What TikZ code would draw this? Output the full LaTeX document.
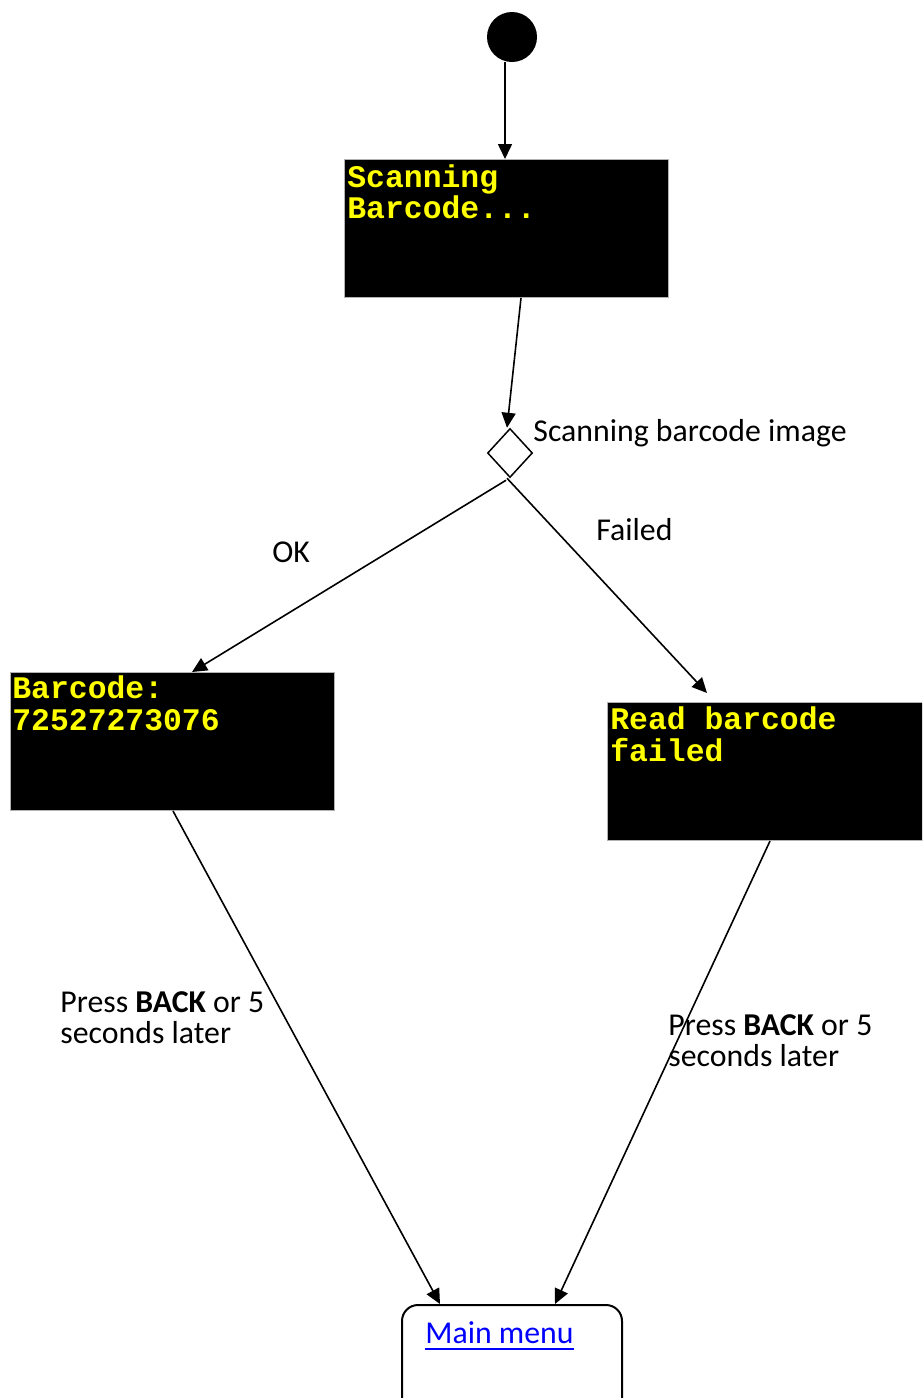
\documentclass[tikz,border=0pt]{standalone}
\usepackage{fontspec}
\setmainfont{Carlito}
\newfontfamily\lcdfont{Liberation Mono}
\usetikzlibrary{arrows.meta,shapes.geometric,calc}
\definecolor{linkblue}{RGB}{0,0,255}
\definecolor{lcdyellow}{RGB}{255,255,0}
\begin{document}
\begin{tikzpicture}[x=0.5pt,y=-0.5pt,
  lcd/.style={draw=gray!60, line width=0.5pt, fill=black, rectangle, inner sep=0pt,
    anchor=north west, minimum width=162pt, minimum height=69pt},
  lcdtext/.style={font=\lcdfont\bfseries\fontsize{15.7}{15.7}\selectfont, text=lcdyellow,
    inner sep=0pt, anchor=base west},
  lbl/.style={font=\fontsize{15.9}{15.9}\selectfont, inner sep=0pt, anchor=base west},
  conn/.style={-{Triangle[length=7.5pt,width=7pt]}, line width=0.8pt}]
\path[use as bounding box] (0,0) rectangle (922,1398);
\clip (0,0) rectangle (922,1398);
% nodes
\node[circle, fill=black, minimum size=25pt, inner sep=0pt] (init) at (512,37) {};
\node[lcd] (scan) at (344,159) {};
\node[lcdtext] (scan1) at (347,187) {Scanning};
\node[lcdtext] (scan2) at (347,218) {Barcode...};
\node[diamond, draw, line width=0.75pt, minimum width=22.5pt, minimum height=24.5pt, inner sep=0pt] (dec) at (510,453) {};
\node[lbl] (declbl) at (533,441) {Scanning barcode image};
\node[lbl] (ok) at (272,562) {OK};
\node[lbl] (failed) at (596,540) {Failed};
\node[lcd] (okbox) at (10,672) {};
\node[lcdtext] (ok1) at (12,698) {Barcode:};
\node[lcdtext] (ok2) at (12,730) {72527273076};
\node[lcd, minimum width=170pt] (fail) at (607,702) {};
\node[lcdtext] (fail1) at (610,729) {Read barcode};
\node[lcdtext] (fail2) at (610,761) {failed};
\node[draw, rounded corners=8pt, line width=1pt, minimum width=110pt, minimum height=60pt,
  anchor=north west] (menu) at (401,1304) {};
\node[lbl, text=linkblue] (menutext) at (425,1343) {Main menu};
\draw[linkblue, line width=1.1pt] ($(menutext.base west)+(0,6)$) -- ($(menutext.base east)+(0,6)$);
\node[lbl] (p1a) at (60,1012) {Press \textbf{BACK} or 5};
\node[lbl] (p1b) at (60,1043) {seconds later};
\node[lbl] (p2a) at (668,1035) {Press \textbf{BACK} or 5};
\node[lbl] (p2b) at (668,1066) {seconds later};
% connectors
\draw[conn] ($(init.south)+(-7,0)$) -- ($(scan.north west)+(161,0)$);
\draw[conn] ($(scan.south west)+(177,0)$) -- ($(dec.north)+(-3,0)$);
\draw[conn] ($(dec.south)+(-4,2)$) -- ($(okbox.north west)+(182,0)$);
\draw[conn] ($(dec.south)+(-3,0)$) -- ($(fail.north west)+(100,-9)$);
\draw[conn] ($(okbox.south west)+(163,0)$) -- ($(menu.north west)+(39,0)$);
\draw[conn] ($(fail.south west)+(163,0)$) -- ($(menu.north west)+(154,0)$);
\end{tikzpicture}
\end{document}
